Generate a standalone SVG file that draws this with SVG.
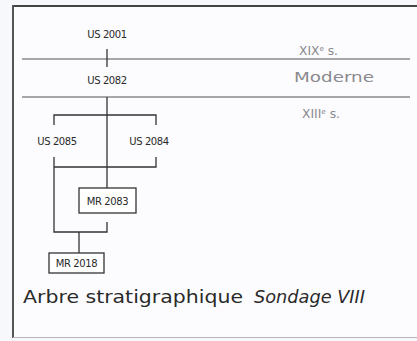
<svg xmlns="http://www.w3.org/2000/svg" width="417" height="341" viewBox="0 0 417 341">
<style>
.t{font-family:"DejaVu Sans","Liberation Sans",sans-serif;fill:#2a2a2a;}
.n{font-size:10px;letter-spacing:-0.4px;}
.g{font-family:"DejaVu Sans","Liberation Sans",sans-serif;fill:#8a8a8e;}
.e{fill:#fff;stroke:#333;stroke-width:1.3;}
.c{fill:none;stroke:#333;stroke-width:1.3;}
.s{stroke:#8a8a8a;stroke-width:1.3;}
</style>
<rect x="0" y="0" width="417" height="341" fill="#f7f8fb"/>
<g id="frame">
<rect x="13" y="6" width="410" height="331" fill="#fcfcfe"/>
<line x1="12" y1="6" x2="417" y2="6" stroke="#444" stroke-width="2"/>
<line x1="13" y1="5" x2="13" y2="338" stroke="#555" stroke-width="2"/>
<line x1="13" y1="337.5" x2="417" y2="337.5" stroke="#b8b8bc" stroke-width="1"/>
</g>
<g id="periods">
<line class="s" x1="22" y1="59" x2="410" y2="59"/>
<line class="s" x1="22" y1="97" x2="410" y2="97"/>
<text class="g" x="299" y="55" font-size="12" textLength="39" lengthAdjust="spacingAndGlyphs">XIX<tspan font-size="7" dy="-4">e</tspan><tspan dy="4"> s.</tspan></text>
<text class="g" x="294" y="82" font-size="13.5" textLength="80" lengthAdjust="spacingAndGlyphs">Moderne</text>
<text class="g" x="302" y="118" font-size="12" textLength="38" lengthAdjust="spacingAndGlyphs">XIII<tspan font-size="7" dy="-4">e</tspan><tspan dy="4"> s.</tspan></text>
</g>
<g id="connectors">
<path class="c" d="M107,49V67"/>
<path class="c" d="M107,97V188"/>
<path class="c" d="M54,125V115H156V125"/>
<path class="c" d="M54,157V232H107V222"/>
<path class="c" d="M156,157V167H54"/>
<path class="c" d="M79,232V253"/>
</g>
<g id="US2001"><text class="t n" x="107" y="38" text-anchor="middle">US 2001</text></g>
<g id="US2082"><text class="t n" x="107" y="84" text-anchor="middle">US 2082</text></g>
<g id="US2085"><text class="t n" x="57" y="145" text-anchor="middle">US 2085</text></g>
<g id="US2084"><text class="t n" x="149" y="145" text-anchor="middle">US 2084</text></g>
<g id="MR2083"><rect class="e" x="79" y="188" width="57" height="25"/><text class="t n" x="107.5" y="204.5" text-anchor="middle">MR 2083</text></g>
<g id="MR2018"><rect class="e" x="49" y="253" width="55" height="20"/><text class="t n" x="76.5" y="267" text-anchor="middle">MR 2018</text></g>
<g id="title">
<text class="t" x="23" y="303" font-size="18.5" textLength="220" lengthAdjust="spacingAndGlyphs">Arbre stratigraphique</text>
<text class="t" x="254" y="303" font-size="18.5" font-style="italic" textLength="111" lengthAdjust="spacingAndGlyphs">Sondage VIII</text>
</g>
</svg>
